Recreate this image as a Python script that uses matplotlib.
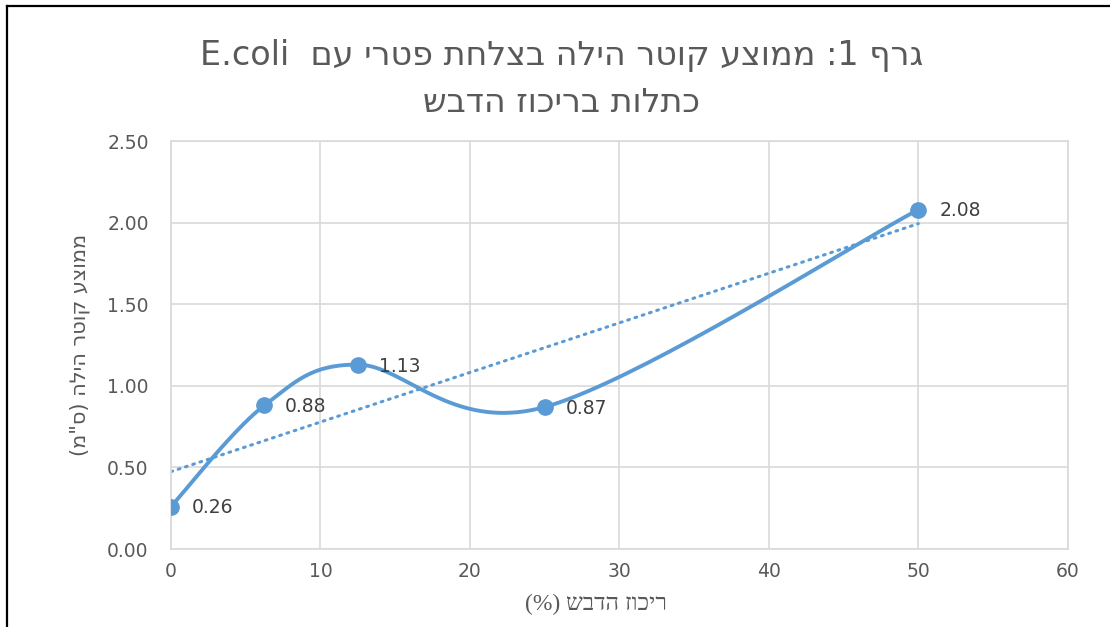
import matplotlib
matplotlib.use('Agg')
import matplotlib.pyplot as plt
from matplotlib.lines import Line2D
import numpy as np

# data
honey_pct = [0, 6.25, 12.5, 25, 50]
halo_cm = [0.26, 0.88, 1.13, 0.87, 2.08]
x_ticks = [0, 10, 20, 30, 40, 50, 60]
y_ticks = [0.0, 0.5, 1.0, 1.5, 2.0, 2.5]

title_lines = ['גרף 1: ממוצע קוטר הילה בצלחת פטרי עם  E.coli', 'כתלות בריכוז הדבש']
x_title = 'ריכוז הדבש (%)'
y_title = 'ממוצע קוטר הילה (ס"מ)'

BLUE = '#5B9BD5'
GRAY = '#595959'
GRID = '#D9D9D9'


def is_heb(c):
    return '\u0590' <= c <= '\u05FF'


def rtl(s):
    # crude bidi: reverse the line, keep latin/digit runs in order, mirror brackets
    r = s[::-1]
    out, run = [], ''
    for c in r:
        if c.isalnum() and not is_heb(c) or (run and c == '.'):
            run += c
        else:
            if run:
                out.append(run[::-1])
                run = ''
            out.append(c)
    if run:
        out.append(run[::-1])
    t = ''.join(out)
    return t.translate(str.maketrans('()', ')('))


def smooth(xs, ys, n=40):
    # excel-like smoothed line (catmull-rom as cubic bezier)
    p = np.column_stack([xs, ys]).astype(float)
    p = np.vstack([p[0], p, p[-1]])
    pts = []
    for i in range(1, len(p) - 2):
        p0, p1, p2, p3 = p[i - 1], p[i], p[i + 1], p[i + 2]
        c1 = p1 + (p2 - p0) / 6
        c2 = p2 - (p3 - p1) / 6
        t = np.linspace(0, 1, n)[:, None]
        seg = ((1 - t) ** 3) * p1 + 3 * ((1 - t) ** 2) * t * c1 + 3 * (1 - t) * t ** 2 * c2 + t ** 3 * p2
        pts.append(seg)
    pts = np.vstack(pts)
    return pts[:, 0], pts[:, 1]


fig = plt.figure(figsize=(11.1, 6.27), dpi=100)
ax = fig.add_axes([0.154, 0.1244, 0.808, 0.6506])

sx, sy = smooth(honey_pct, halo_cm)
ax.plot(sx, sy, color=BLUE, lw=2.8, solid_capstyle='round', zorder=3)
ax.plot(honey_pct, halo_cm, 'o', color=BLUE, ms=11, zorder=4)

k, b = np.polyfit(honey_pct, halo_cm, 1)
tx = np.array([honey_pct[0], honey_pct[-1]])
ax.plot(tx, k * tx + b, color=BLUE, lw=2.2, linestyle=(0, (0.6, 1.9)),
        dash_capstyle='round', zorder=2)

for x, y in zip(honey_pct, halo_cm):
    ax.annotate(f'{y:.2f}', (x, y), xytext=(15, -1), textcoords='offset points',
                ha='left', va='center', fontsize=13.5, color='#404040')

ax.set_xlim(0, 60)
ax.set_ylim(0, 2.5)
ax.set_xticks(x_ticks)
ax.set_yticks(y_ticks)
ax.set_yticklabels([f'{v:.2f}' for v in y_ticks])
ax.tick_params(length=0, labelsize=13.5, labelcolor=GRAY)
ax.tick_params(axis='y', pad=16)
ax.tick_params(axis='x', pad=9)
ax.grid(True, color=GRID, lw=1.2)
ax.set_axisbelow(True)
for sp in ax.spines.values():
    sp.set_color(GRID)
    sp.set_linewidth(1.2)

ax.set_xlabel(rtl(x_title), fontsize=17, color=GRAY, family=['Liberation Serif', 'DejaVu Serif'])
ax.xaxis.set_label_coords(0.474, -0.11)
ax.set_ylabel(rtl(y_title), fontsize=15, color=GRAY)
ax.yaxis.set_label_coords(-0.09, 0.5)

for i, line in enumerate(title_lines):
    fig.text(0.506, 0.912 - i * 0.076, rtl(line), ha='center', va='center', fontsize=24,
             color=GRAY, family=['DejaVu Sans'])

# outer frame (top and left edges visible)
fig.add_artist(Line2D([0.006, 1.0], [0.991, 0.991], color='black', lw=1.6, transform=fig.transFigure))
fig.add_artist(Line2D([0.006, 0.006], [0.0, 0.991], color='black', lw=1.6, transform=fig.transFigure))

fig.savefig('out.png', dpi=100)
